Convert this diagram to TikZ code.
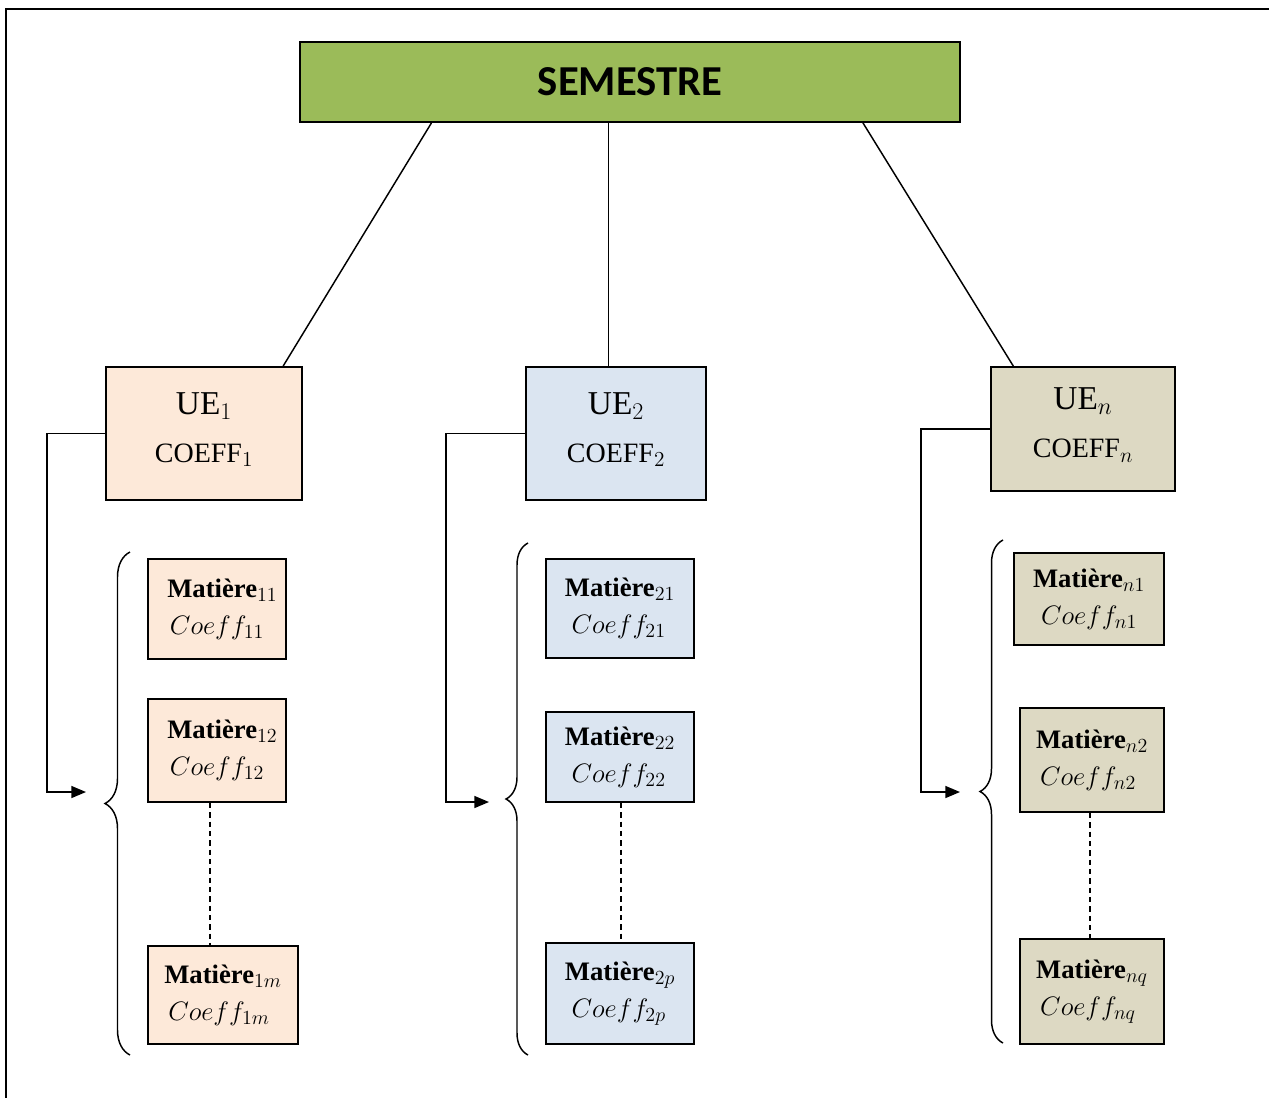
\RequirePackage{fix-cm}
\documentclass[tikz,border=0pt]{standalone}
\usepackage{fontspec}
\setmainfont{Liberation Serif}
\newfontfamily\titlefont{Carlito}
\usetikzlibrary{arrows.meta,calc,decorations.pathreplacing}

\DeclareMathSizes{20}{20}{15}{11}
\DeclareMathSizes{21}{21}{16}{12}
\DeclareMathSizes{25}{25}{18}{13}

\definecolor{semgreen}{HTML}{9BBB59}
\definecolor{uepeach}{HTML}{FDE9D9}
\definecolor{ueblue}{HTML}{DBE5F1}
\definecolor{uetan}{HTML}{DDD9C3}

\tikzset{
  box/.style={draw, line width=1.4pt, inner sep=0pt},
  ue/.style={box, align=center, font=\fontsize{21}{36}\selectfont},
  mat/.style={box, align=left, font=\fontsize{20}{28}\selectfont},
  link/.style={line width=1.1pt},
  arrowlink/.style={line width=1.1pt, -{Triangle[length=11pt,width=9pt]}},
  accolade/.style={decorate, decoration={brace, amplitude=#1}, line width=1.1pt},
}

\begin{document}
\begin{tikzpicture}[x=0.75pt, y=-0.75pt]
\useasboundingbox (0,0) rectangle (1269,1097);
\draw[line width=2pt] (6,1110) -- (6,9) -- (1280,9);

% semestre
\node[box, fill=semgreen, minimum width=495pt, minimum height=60pt,
  font=\titlefont\bfseries\fontsize{32}{36}\selectfont] (sem) at (630,82) {SEMESTRE};

% unites d'enseignement
\node[ue, fill=uepeach, minimum width=147pt, minimum height=99.75pt] (ue1) at (204,433.5)
  {{\fontsize{25}{36}\selectfont UE$_1$}\\COEFF$_1$\\[-27pt]};
\node[ue, fill=ueblue, minimum width=135pt, minimum height=99.75pt] (ue2) at (616,433.5)
  {{\fontsize{25}{36}\selectfont UE$_2$}\\COEFF$_2$\\[-27pt]};
\node[ue, fill=uetan, minimum width=138pt, minimum height=93pt] (uen) at (1083,429)
  {{\fontsize{25}{36}\selectfont UE$_n$}\\COEFF$_n$\\[-27pt]};

\draw[link] ($(sem.south west)!0.2!(sem.south east)$) -- ($(ue1.north west)!0.9!(ue1.north east)$);
\draw[link] ($(ue2.north west)!0.46!(ue2.north east)$) coordinate (mid) -- (mid |- sem.south);
\draw[link] ($(sem.south west)!0.852!(sem.south east)$) -- ($(uen.north west)!0.125!(uen.north east)$);

% matieres UE1
\node[mat, fill=uepeach, minimum width=103.5pt, minimum height=75pt] (mat11) at (217,609)
  {\hspace{8pt}\textbf{Mati\`ere}$_{11}$\\\hspace{10pt}$Coeff_{11}$};
\node[mat, fill=uepeach, minimum width=103.5pt, minimum height=77.25pt] (mat12) at (217,750.5)
  {\hspace{8pt}\textbf{Mati\`ere}$_{12}$\\\hspace{10pt}$Coeff_{12}$};
\node[mat, fill=uepeach, minimum width=112.5pt, minimum height=73.5pt] (mat1m) at (223,995)
  {\textbf{Mati\`ere}$_{1m}$\\\hspace{3pt}$Coeff_{1m}$};

% matieres UE2
\node[mat, fill=ueblue, minimum width=111pt, minimum height=74.25pt] (mat21) at (620,608.5)
  {\textbf{Mati\`ere}$_{21}$\\\hspace{5pt}$Coeff_{21}$};
\node[mat, fill=ueblue, minimum width=111pt, minimum height=67.5pt] (mat22) at (620,757)
  {\textbf{Mati\`ere}$_{22}$\\\hspace{5pt}$Coeff_{22}$};
\node[mat, fill=ueblue, minimum width=111pt, minimum height=75.75pt] (mat2p) at (620,993.5)
  {\textbf{Mati\`ere}$_{2p}$\\\hspace{5pt}$Coeff_{2p}$};

% matieres UEn
\node[mat, fill=uetan, minimum width=112.5pt, minimum height=69pt] (matn1) at (1089,599)
  {\textbf{Mati\`ere}$_{n1}$\\\hspace{6pt}$Coeff_{n1}$};
\node[mat, fill=uetan, minimum width=108pt, minimum height=78pt] (matn2) at (1092,760)
  {\textbf{Mati\`ere}$_{n2}$\\\hspace{3pt}$Coeff_{n2}$};
\node[mat, fill=uetan, minimum width=108pt, minimum height=78.75pt] (matnq) at (1092,991.5)
  {\textbf{Mati\`ere}$_{nq}$\\\hspace{3pt}$Coeff_{nq}$};

% pointilles
\draw[link, dash pattern=on 4pt off 3pt] ($(mat12.south west)!0.45!(mat12.south east)$) coordinate (d1) -- (d1 |- mat1m.north);
\draw[link, dash pattern=on 4pt off 3pt] ($(mat22.south west)!0.507!(mat22.south east)$) coordinate (d2) -- (d2 |- mat2p.north);
\draw[link, dash pattern=on 4pt off 3pt] ($(matn2.south west)!0.486!(matn2.south east)$) coordinate (dn) -- (dn |- matnq.north);

% accolades
\coordinate (b1top) at (130,552);
\coordinate (b1bot) at (130,1055);
\coordinate (b2top) at (528,543);
\coordinate (b2bot) at (528,1055);
\coordinate (bntop) at (1003,540);
\coordinate (bnbot) at (1003,1043);
\draw[accolade=18.75pt] (b1bot) -- (b1top);
\draw[accolade=16.5pt] (b2bot) -- (b2top);
\draw[accolade=17.25pt] (bnbot) -- (bntop);

% fleches
\coordinate (in1) at (86,792);
\coordinate (in2) at (489,802);
\coordinate (inn) at (960,792);
\draw[arrowlink] (ue1.west) -- ++(-58,0) |- (in1);
\draw[arrowlink] (ue2.west) -- ++(-79,0) |- (in2);
\draw[arrowlink] (uen.west) -- ++(-69,0) |- (inn);
\end{tikzpicture}
\end{document}
